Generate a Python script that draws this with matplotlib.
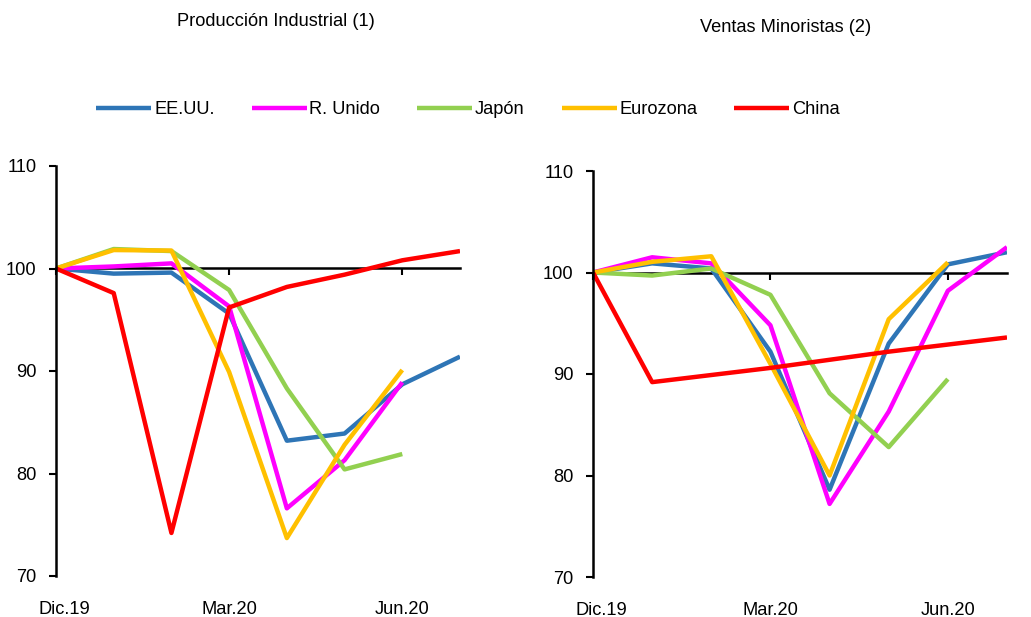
import matplotlib.pyplot as plt
from matplotlib import font_manager
from matplotlib.transforms import ScaledTranslation

# Arial Narrow look-alike if present, else plain Liberation Sans
try:
    font_manager.findfont("Liberation Sans Narrow", fallback_to_default=False)
    FAMILY, SCALE = "Liberation Sans Narrow", 1.0
except ValueError:
    FAMILY, SCALE = "Liberation Sans", 0.82
plt.rcParams['font.family'] = [FAMILY, 'DejaVu Sans']

months = ["Dic.19", "Ene.20", "Feb.20", "Mar.20", "Abr.20", "May.20", "Jun.20", "Jul.20"]
tick_labels = ["Dic.19", "Mar.20", "Jun.20"]
series_names = ["EE.UU.", "R. Unido", "Japón", "Eurozona", "China"]
colors = ["#2E75B6", "#FF00FF", "#92D050", "#FFC000", "#FF0000"]

# Producción Industrial (1)
ip_eeuu = [100, 99.5, 99.6, 95.6, 83.2, 83.9, 88.7, 91.4]
ip_runido = [100, 100.2, 100.5, 96.3, 76.6, 81.3, 88.9]
ip_japon = [100, 101.9, 101.7, 97.9, 88.3, 80.4, 81.9]
ip_eurozona = [100, 101.8, 101.75, 89.9, 73.7, 82.8, 90.1]
ip_china = [100, 97.6, 74.2, 96.2, 98.2, 99.4, 100.8, 101.7]

# Ventas Minoristas (2)
vm_eeuu = [100, 100.9, 100.4, 92.2, 78.6, 93.0, 100.8, 102.0]
vm_runido = [100, 101.5, 100.9, 94.8, 77.2, 86.3, 98.2, 102.5]
vm_japon = [100, 99.7, 100.4, 97.8, 88.1, 82.8, 89.5]
vm_eurozona = [100, 101.05, 101.6, 91.0, 80.0, 95.4, 101.0]
vm_china = [100, 89.2, 89.9, 90.6, 91.4, 92.2, 92.9, 93.6]

FS = 16 * SCALE


def draw_panel(ax, data, title, title_xy):
    for values, color, name in zip(data, colors, series_names):
        ax.plot(range(len(values)), values, color=color, lw=3.2, label=name,
                solid_capstyle="butt")
    ax.set_xlim(0, len(months) - 1)
    ax.set_ylim(70, 110)
    ax.set_yticks([70, 80, 90, 100, 110])
    ax.tick_params(axis="y", length=5, width=1.5, labelsize=FS, pad=9)
    for s in ["top", "right"]:
        ax.spines[s].set_visible(False)
    ax.spines["left"].set_linewidth(1.8)
    ax.spines["bottom"].set_position(("data", 100))
    ax.spines["bottom"].set_linewidth(1.8)
    ax.spines["bottom"].set_zorder(1)
    ax.set_xticks([0, 3, 6])
    ax.tick_params(axis="x", length=5, width=1.5, labelbottom=False)
    sec = ax.secondary_xaxis(0)
    sec.set_xticks([0, 3, 6], tick_labels)
    sec.tick_params(length=0, labelsize=FS, pad=18)
    sec.spines["bottom"].set_visible(False)
    first = sec.get_xticklabels()[0]
    first.set_transform(first.get_transform() + ScaledTranslation(0.08, 0, fig.dpi_scale_trans))
    fig.text(title_xy[0], title_xy[1], title, ha="center", va="center", fontsize=FS)


fig = plt.figure(figsize=(10.31, 6.17), dpi=100)
W, H = 1031, 617
ax1 = fig.add_axes([56 / W, 1 - 576 / H, (460 - 56) / W, (576 - 166) / H])
ax2 = fig.add_axes([593 / W, 1 - 577 / H, (1007 - 593) / W, (577 - 171) / H])

draw_panel(ax1, [ip_eeuu, ip_runido, ip_japon, ip_eurozona, ip_china],
           "Producción Industrial (1)", (276 / W, 1 - 21 / H))
draw_panel(ax2, [vm_eeuu, vm_runido, vm_japon, vm_eurozona, vm_china],
           "Ventas Minoristas (2)", (786 / W, 1 - 28 / H))

handles, labels = ax1.get_legend_handles_labels()
fig.legend(handles, labels, loc="center", bbox_to_anchor=(468 / W, 1 - 110 / H),
           ncol=5, frameon=False, fontsize=FS, handlelength=55 / (FS * 1.389),
           handletextpad=0.15, columnspacing=37 / (FS * 1.389))

fig.savefig("out.png", dpi=100)
